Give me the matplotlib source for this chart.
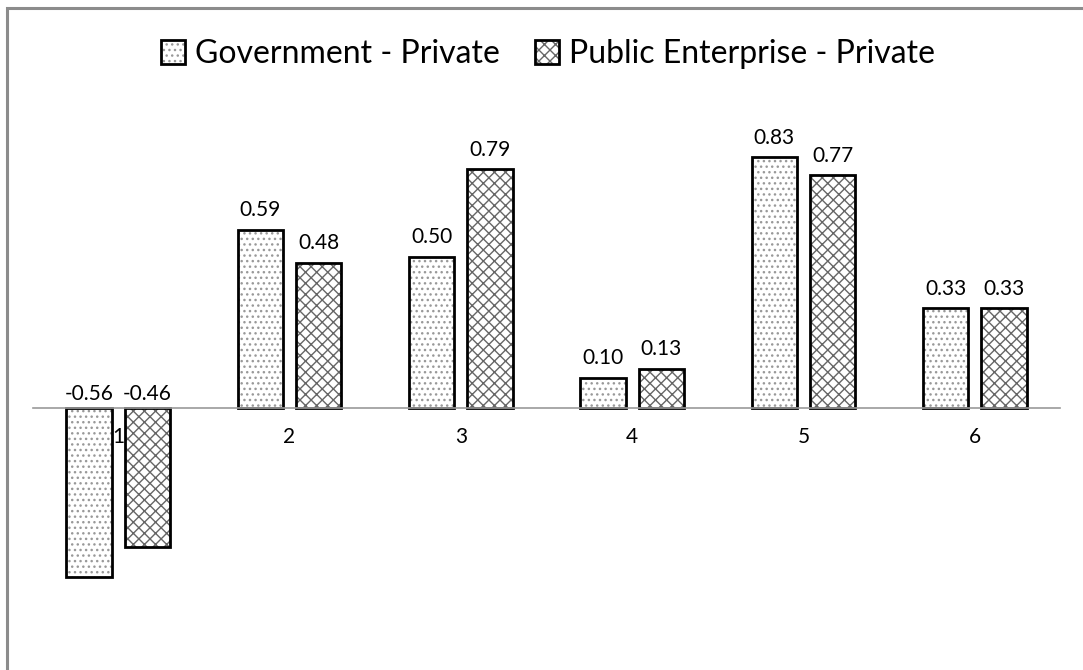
import matplotlib
matplotlib.use("Agg")
import matplotlib.pyplot as plt
import matplotlib.patches as mpatches
import numpy as np

plt.rcParams['font.family'] = ['Lato', 'DejaVu Sans']
plt.rcParams['hatch.linewidth'] = 1.0

categories = ["1", "2", "3", "4", "5", "6"]
gov_private = [-0.56, 0.59, 0.50, 0.10, 0.83, 0.33]
pe_private = [-0.46, 0.48, 0.79, 0.13, 0.77, 0.33]
series_names = ["Government - Private", "Public Enterprise - Private"]

W, H = 1083, 670
fig = plt.figure(figsize=(W / 100, H / 100), dpi=100)

# outer chart border (cropped)
border = mpatches.Rectangle((7 / W, -0.1), 1.2, (H - 8) / H + 0.1, transform=fig.transFigure,
                            fill=False, edgecolor='#8c8c8c', linewidth=2.2, zorder=0)
fig.patches.append(border)

ylo, yhi = -0.8, 1.0
scale = 302.0
zero_from_bottom = H - 408
ax_bottom = zero_from_bottom + ylo * scale
ax_height = (yhi - ylo) * scale
ax = fig.add_axes([32.5 / W, ax_bottom / H, 1028 / W, ax_height / H])
ax.set_xlim(0.5, 6.5)
ax.set_ylim(ylo, yhi)

x = np.arange(1, len(categories) + 1)
bw = 0.265
off = 0.17
b1 = ax.bar(x - off, gov_private, bw, facecolor='white', edgecolor='black', linewidth=2,
            hatch='...', label=series_names[0], zorder=2)
b2 = ax.bar(x + off, pe_private, bw, facecolor='white', edgecolor='black', linewidth=2,
            hatch='xxx', label=series_names[1], zorder=2)
for b in b1:
    b._hatch_color = (0.6, 0.6, 0.6, 1.0)
for b in b2:
    b._hatch_color = (0.4, 0.4, 0.4, 1.0)

for xs, vals in ((x - off, gov_private), (x + off, pe_private)):
    for xi, v in zip(xs, vals):
        if v >= 0:
            ax.annotate(f"{v:.2f}", (xi, v), xytext=(0, 7), textcoords='offset points',
                        ha='center', va='bottom', fontsize=15)
        else:
            ax.annotate(f"{v:.2f}", (xi, 0), xytext=(0, 3), textcoords='offset points',
                        ha='center', va='bottom', fontsize=15)

for s in ['top', 'right', 'left']:
    ax.spines[s].set_visible(False)
ax.spines['bottom'].set_position(('data', 0))
ax.spines['bottom'].set_color('#9a9a9a')
ax.spines['bottom'].set_linewidth(1.2)
ax.set_yticks([])
ax.set_xticks(x)
ax.set_xticklabels(categories, fontsize=15)
ax.tick_params(axis='x', length=0, pad=14)
ax.patch.set_visible(False)

leg = fig.legend(handles=[b1, b2], loc='center', bbox_to_anchor=(0.506, 0.919), ncol=2,
                 frameon=False, fontsize=23, handlelength=0.75, handleheight=0.75,
                 handletextpad=0.3, columnspacing=1.1)

fig.savefig("out.png", dpi=100)
